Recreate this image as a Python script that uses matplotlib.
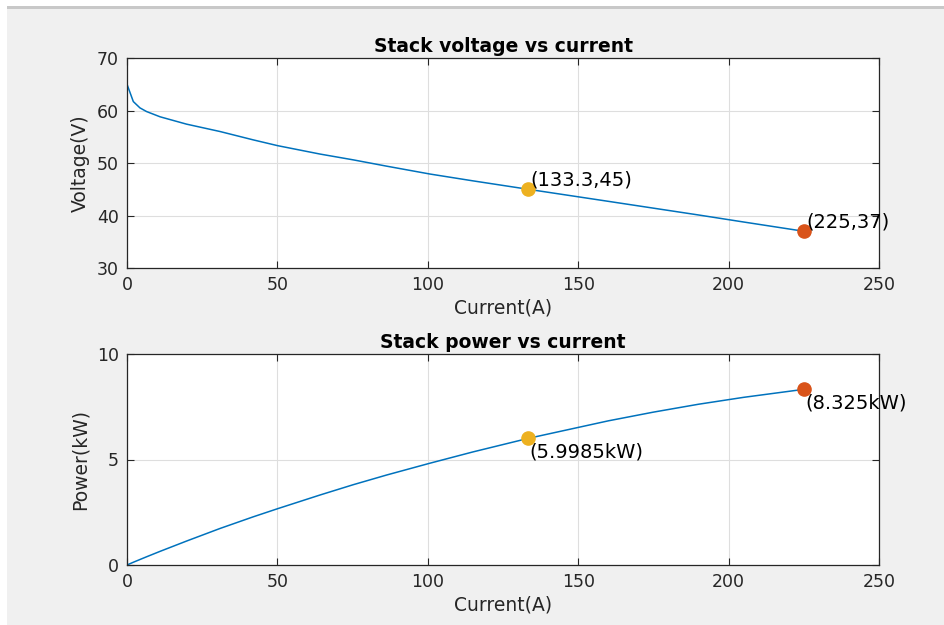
import matplotlib.pyplot as plt
from matplotlib.patches import Rectangle

# datos
corriente = [0, 2.1, 4.3, 6.5, 11, 19.8, 30.9, 42, 50.1, 64.2, 75.2, 86.3, 100.7, 115,
             133.3, 160, 175, 190, 205, 225]
voltaje = [65.0, 61.7, 60.5, 59.8, 58.8, 57.4, 56.0, 54.4, 53.3, 51.7, 50.6, 49.4, 47.9, 46.6,
           45.0, 42.7, 41.4, 40.1, 38.76, 37.0]
potencia = [0, 0.130, 0.260, 0.389, 0.647, 1.135, 1.730, 2.285, 2.670, 3.319, 3.805, 4.264, 4.824, 5.359,
            5.9985, 6.832, 7.245, 7.619, 7.946, 8.325]

punto_i = [133.3, 225]
punto_v = [45, 37]
punto_p = [5.9985, 8.325]
etiquetas_v = ["(133.3,45)", "(225,37)"]
etiquetas_p = ["(5.9985kW)", "(8.325kW)"]
colores_punto = ["#EDB120", "#D95319"]

plt.rcParams['font.family'] = ['DejaVu Sans']
gris = "#262626"

fig = plt.figure(figsize=(9.44, 6.25), dpi=100, facecolor='white')
# fondo gris tipo ventana de MATLAB
fig.patches.append(Rectangle((7 / 944, 0), 1, 1 - 9 / 625, transform=fig.transFigure,
                             facecolor="#f0f0f0", edgecolor='none', zorder=-10))
fig.patches.append(Rectangle((7 / 944, 1 - 9 / 625), 1, 3 / 625, transform=fig.transFigure,
                             facecolor="#c8c8c8", edgecolor='none', zorder=-9))

ax1 = fig.add_axes([127 / 944, 1 - 268 / 625, 752 / 944, 210 / 625])
ax2 = fig.add_axes([127 / 944, 1 - 565 / 625, 752 / 944, 211 / 625])


def estilo(ax):
    ax.set_facecolor('white')
    ax.grid(True, color="#dedede", linewidth=0.8)
    ax.set_axisbelow(True)
    for s in ax.spines.values():
        s.set_color(gris)
        s.set_linewidth(0.9)
    ax.tick_params(direction='in', top=True, right=True, length=5, width=0.8,
                   colors=gris, labelsize=12.5, pad=6)
    ax.set_xlim(0, 250)
    ax.set_xticks([0, 50, 100, 150, 200, 250])


# Grafica de voltaje
estilo(ax1)
ax1.plot(corriente, voltaje, color="#0072BD", linewidth=1.1)
for i, v, c, t in zip(punto_i, punto_v, colores_punto, etiquetas_v):
    ax1.plot(i, v, 'o', color=c, markersize=9.5)
    ax1.annotate(t, (i, v), xytext=(2, 0), textcoords='offset points',
                 ha='left', va='bottom', fontsize=14, color='black')
ax1.set_ylim(30, 70)
ax1.set_yticks([30, 40, 50, 60, 70])
ax1.set_title("Stack voltage vs current", fontsize=13.5, fontweight='bold', pad=4)
ax1.set_xlabel("Current(A)", fontsize=13.5, color=gris, labelpad=3)
ax1.set_ylabel("Voltage(V)", fontsize=13.5, color=gris, labelpad=5)

# Grafica de potencia
estilo(ax2)
ax2.plot(corriente, potencia, color="#0072BD", linewidth=1.1)
for i, p, c, t in zip(punto_i, punto_p, colores_punto, etiquetas_p):
    ax2.plot(i, p, 'o', color=c, markersize=9.5)
    ax2.annotate(t, (i, p), xytext=(1, -3), textcoords='offset points',
                 ha='left', va='top', fontsize=14, color='black')
ax2.set_ylim(0, 10)
ax2.set_yticks([0, 5, 10])
ax2.set_title("Stack power vs current", fontsize=13.5, fontweight='bold', pad=4)
ax2.set_xlabel("Current(A)", fontsize=13.5, color=gris, labelpad=3)
ax2.set_ylabel("Power(kW)", fontsize=13.5, color=gris, labelpad=5)

fig.savefig("out.png", dpi=100, facecolor=fig.get_facecolor())
